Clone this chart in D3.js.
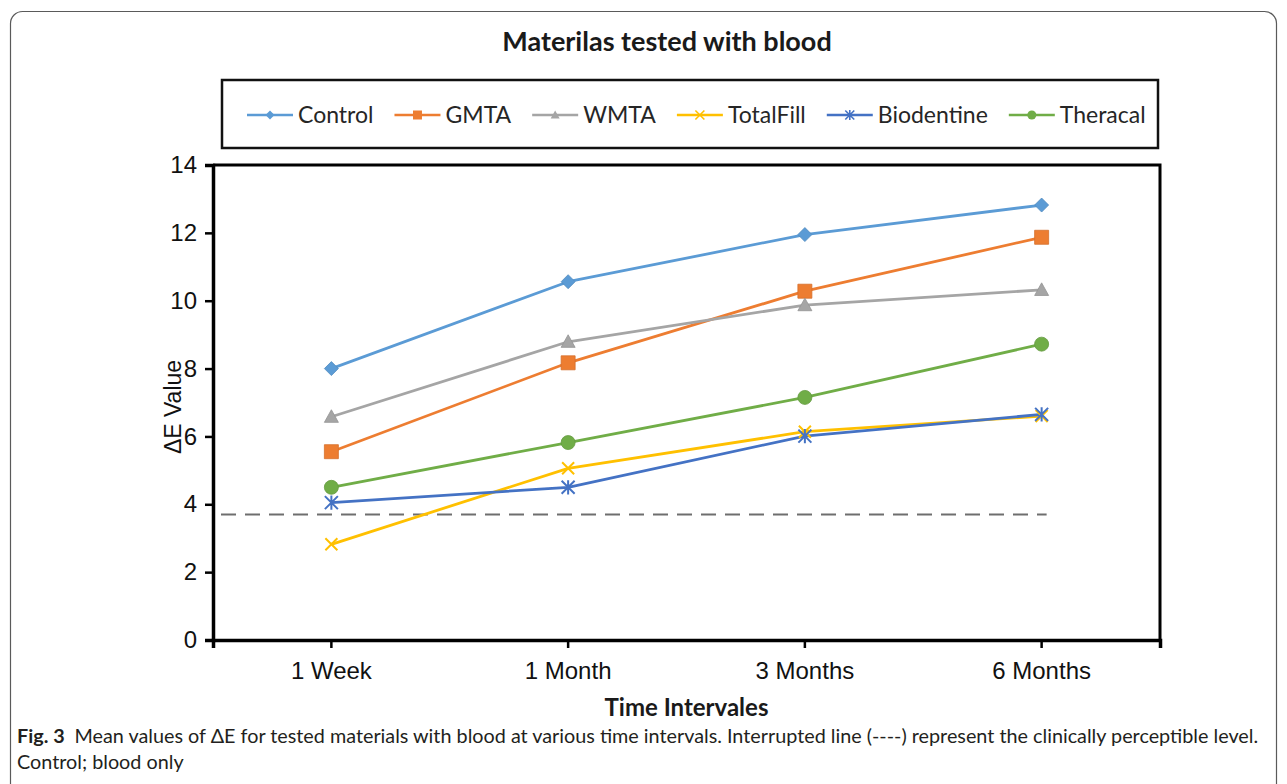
<!DOCTYPE html>
<html>
<head>
<meta charset="utf-8">
<script src="https://cdn.jsdelivr.net/npm/d3@7"></script>
<style>
  html, body { margin: 0; padding: 0; background: #fff; }
  svg { display: block; }
</style>
</head>
<body>
<svg id="chart" width="1287" height="784"></svg>
<script>
// ---- data ----
const categories = ["1 Week", "1 Month", "3 Months", "6 Months"];
const seriesNames = ["Control", "GMTA", "WMTA", "TotalFill", "Biodentine", "Theracal"];
const control    = [8.00, 10.56, 11.95, 12.82];
const gmta       = [5.55, 8.17, 10.28, 11.87];
const wmta       = [6.58, 8.79, 9.87, 10.32];
const totalFill  = [2.82, 5.06, 6.14, 6.60];
const biodentine = [4.05, 4.50, 6.01, 6.65];
const theracal   = [4.50, 5.82, 7.15, 8.72];
const threshold  = 3.7;
const yTicks     = [0, 2, 4, 6, 8, 10, 12, 14];
const titleText  = "Materilas tested with blood";
const xTitle     = "Time Intervales";
const yTitle     = "\u0394E  Value";

const seriesValues = [control, gmta, wmta, totalFill, biodentine, theracal];
const colors  = ["#5B9BD5", "#ED7D31", "#A5A5A5", "#FFC000", "#4472C4", "#70AD47"];
const markers = ["diamond", "square", "triangle", "x", "star", "circle"];

const svg = d3.select("#chart");

// outer rounded frame
svg.append("rect")
  .attr("x", 10.5).attr("y", 11.5).attr("width", 1266).attr("height", 790)
  .attr("rx", 12).attr("fill", "none").attr("stroke", "#5a5a5a").attr("stroke-width", 1.2);

const plot = { left: 213, right: 1160, top: 165, bottom: 640 };

const x = d3.scaleBand().domain(categories).range([plot.left, plot.right]).padding(0);
const cx = c => x(c) + x.bandwidth() / 2;
const y = d3.scaleLinear().domain([0, 14]).range([plot.bottom, plot.top]);

// title
svg.append("text")
  .attr("x", 667).attr("y", 51)
  .attr("text-anchor", "middle")
  .attr("font-family", "Lato, 'Open Sans', sans-serif")
  .attr("font-weight", 700)
  .attr("font-size", 27)
  .attr("fill", "#1a1a1a")
  .text(titleText);

// legend box
svg.append("rect")
  .attr("x", 222).attr("y", 80).attr("width", 936).attr("height", 68)
  .attr("fill", "#fff").attr("stroke", "#111").attr("stroke-width", 2.5);

function markerPath(type, s) {
  switch (type) {
    case "diamond": return `M0,${-s}L${s},0L0,${s}L${-s},0Z`;
    case "square": return `M${-s},${-s}H${s}V${s}H${-s}Z`;
    case "triangle": return `M0,${-s}L${s},${s * 0.8}L${-s},${s * 0.8}Z`;
    case "circle": return d3.arc()({innerRadius: 0, outerRadius: s, startAngle: 0, endAngle: 2 * Math.PI});
    case "x": return `M${-s},${-s}L${s},${s}M${-s},${s}L${s},${-s}`;
    case "star": return `M${-s},${-s}L${s},${s}M${-s},${s}L${s},${-s}M0,${-s * 1.1}L0,${s * 1.1}`;
  }
}
const strokeMarker = t => t === "x" || t === "star";

const legendG = svg.append("g").attr("font-family", "Lato, 'Open Sans', sans-serif").attr("font-size", 23).attr("fill", "#262626");
let lx = 247;
const ly = 115;
seriesNames.forEach((name, i) => {
  legendG.append("line")
    .attr("x1", lx).attr("x2", lx + 46).attr("y1", ly).attr("y2", ly)
    .attr("stroke", colors[i]).attr("stroke-width", 2.5);
  const mk = legendG.append("path")
    .attr("transform", `translate(${lx + 23},${ly})`)
    .attr("d", markerPath(markers[i], 4.5));
  if (strokeMarker(markers[i])) mk.attr("fill", "none").attr("stroke", colors[i]).attr("stroke-width", 1.6);
  else mk.attr("fill", colors[i]);
  const t = legendG.append("text").attr("x", lx + 51).attr("y", ly + 8).text(name);
  lx = lx + 51 + t.node().getComputedTextLength() + 21;
});

// threshold dashed line
svg.append("line")
  .attr("x1", plot.left + 8).attr("x2", cx(categories[3]) + 5)
  .attr("y1", y(threshold)).attr("y2", y(threshold))
  .attr("stroke", "#6e6e6e").attr("stroke-width", 2)
  .attr("stroke-dasharray", "15,9");

// series lines
const line = d3.line().x((d, i) => cx(categories[i])).y(d => y(d));
seriesValues.forEach((vals, i) => {
  svg.append("path")
    .attr("d", line(vals))
    .attr("fill", "none").attr("stroke", colors[i]).attr("stroke-width", 2.8)
    .attr("stroke-linejoin", "round");
});
// markers
seriesValues.forEach((vals, i) => {
  const sizes = {diamond: 7, square: 7, triangle: 7, x: 6, star: 6.5, circle: 7};
  svg.append("g").selectAll("path").data(vals).join("path")
    .attr("transform", (d, j) => `translate(${cx(categories[j])},${y(d)})`)
    .attr("d", markerPath(markers[i], sizes[markers[i]]))
    .each(function () {
      const sel = d3.select(this);
      if (strokeMarker(markers[i])) sel.attr("fill", "none").attr("stroke", colors[i]).attr("stroke-width", 2);
      else sel.attr("fill", colors[i]).attr("stroke", d3.color(colors[i]).darker(0.3)).attr("stroke-width", 0.8);
    });
});

// plot frame (top and right)
svg.append("path")
  .attr("d", `M${plot.left},${plot.top}H${plot.right}V${plot.bottom}`)
  .attr("fill", "none").attr("stroke", "#000").attr("stroke-width", 3);

// y axis
const yAxis = d3.axisLeft(y).tickValues(yTicks).tickSize(8).tickPadding(8).tickFormat(d3.format("d"));
const yg = svg.append("g").attr("transform", `translate(${plot.left},0)`).call(yAxis);
yg.select(".domain").attr("stroke", "#000").attr("stroke-width", 3.5);
yg.selectAll(".tick line").attr("stroke", "#000").attr("stroke-width", 2.5);
yg.selectAll(".tick text").attr("font-family", "'Liberation Sans', Arial, sans-serif").attr("font-size", 24).attr("fill", "#111");

// x axis
const xAxis = d3.axisBottom(x).tickSize(8).tickPadding(14).tickSizeOuter(8);
const xg = svg.append("g").attr("transform", `translate(0,${plot.bottom})`).call(xAxis);
xg.select(".domain").attr("stroke", "#000").attr("stroke-width", 3.5);
xg.selectAll(".tick line").attr("stroke", "#000").attr("stroke-width", 2.5);
xg.selectAll(".tick text").attr("font-family", "'Liberation Sans', Arial, sans-serif").attr("font-size", 24).attr("fill", "#111");

// axis titles
svg.append("text")
  .attr("x", plot.left + (plot.right - plot.left) / 2).attr("y", 716)
  .attr("text-anchor", "middle")
  .attr("font-family", "Lato, 'Open Sans', sans-serif")
  .attr("font-weight", 700)
  .attr("font-size", 24)
  .attr("fill", "#1a1a1a")
  .text(xTitle);

svg.append("text")
  .attr("transform", `translate(181,407) rotate(-90)`)
  .attr("text-anchor", "middle")
  .attr("font-family", "'Liberation Sans', Arial, sans-serif")
  .attr("font-size", 23)
  .attr("fill", "#111")
  .text(yTitle);

// caption
const cap = svg.append("g").attr("font-family", "Lato, 'Open Sans', sans-serif").attr("font-size", 19.8).attr("fill", "#231f20");
const c1 = cap.append("text").attr("x", 17).attr("y", 743);
c1.append("tspan").attr("font-weight", 700).text("Fig. 3");
c1.append("tspan").text("\u2002Mean values of \u0394E for tested materials with blood at various time intervals. Interrupted line (----) represent the clinically perceptible level.");
cap.append("text").attr("x", 17).attr("y", 769).text("Control; blood only");
</script>
</body>
</html>
